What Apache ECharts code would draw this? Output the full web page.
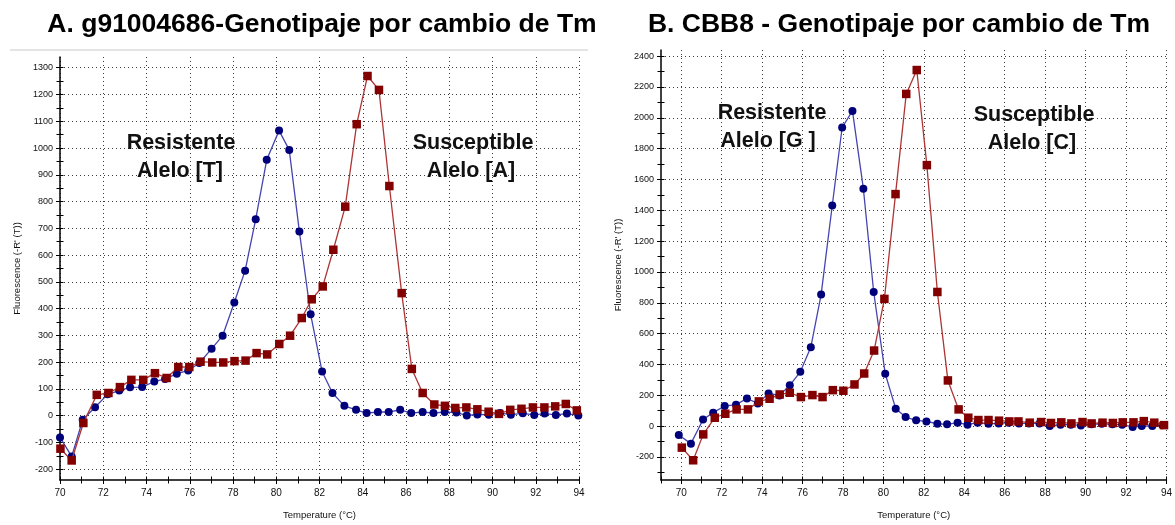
<!DOCTYPE html>
<html>
<head>
<meta charset="utf-8">
<script src="https://cdn.jsdelivr.net/npm/echarts@6/dist/echarts.min.js"></script>
<style>
  html, body { margin: 0; padding: 0; background: #ffffff; }
  #chart { width: 1175px; height: 525px; }
</style>
</head>
<body>
<div id="chart"></div>
<script>
// ---- Panel A: g91004686 melt curves (-dF/dT) ----
const tempA_res = [70.0, 70.54, 71.05, 71.62, 72.2, 72.74, 73.24, 73.8, 74.36, 74.86, 75.4, 75.93, 76.44, 77.01, 77.52, 78.06, 78.56, 79.05, 79.56, 80.13, 80.6, 81.07, 81.59, 82.12, 82.6, 83.15, 83.69, 84.18, 84.7, 85.2, 85.73, 86.24, 86.77, 87.27, 87.79, 88.33, 88.81, 89.3, 89.83, 90.35, 90.85, 91.4, 91.93, 92.41, 92.93, 93.44, 93.97];
const fluoA_res = [-81, -152, -15, 32, 80, 94, 106, 107, 128, 137, 157, 169, 197, 250, 299, 423, 542, 734, 956, 1065, 993, 688, 379, 165, 85, 37, 22, 10, 14, 14, 22, 10, 14, 10, 14, 12, 1, 5, 4, 10, 4, 9, 3, 8, 3, 8, 1];
const tempA_sus = [70.02, 70.54, 71.08, 71.7, 72.24, 72.77, 73.3, 73.85, 74.39, 74.93, 75.47, 75.98, 76.5, 77.04, 77.55, 78.07, 78.58, 79.09, 79.58, 80.14, 80.64, 81.18, 81.64, 82.15, 82.64, 83.19, 83.72, 84.22, 84.75, 85.23, 85.8, 86.27, 86.77, 87.31, 87.8, 88.28, 88.79, 89.3, 89.82, 90.3, 90.82, 91.34, 91.87, 92.4, 92.9, 93.39, 93.9];
const fluoA_sus = [-123, -167, -27, 78, 85, 107, 134, 134, 159, 141, 182, 182, 202, 199, 199, 204, 206, 234, 229, 268, 299, 365, 435, 483, 620, 781, 1089, 1269, 1217, 858, 458, 175, 85, 42, 37, 29, 31, 24, 15, 7, 22, 26, 31, 31, 35, 44, 20];

// ---- Panel B: CBB8 melt curves ----
const tempB_res = [69.88, 70.48, 71.08, 71.58, 72.15, 72.71, 73.25, 73.79, 74.32, 74.86, 75.37, 75.89, 76.41, 76.92, 77.47, 77.96, 78.47, 79.01, 79.52, 80.09, 80.61, 81.1, 81.62, 82.13, 82.67, 83.15, 83.67, 84.16, 84.66, 85.2, 85.7, 86.2, 86.7, 87.2, 87.72, 88.23, 88.76, 89.27, 89.77, 90.29, 90.8, 91.33, 91.81, 92.33, 92.78, 93.3, 93.8];
const fluoB_res = [-58, -114, 43, 87, 130, 139, 179, 147, 212, 199, 264, 352, 512, 853, 1431, 1937, 2045, 1540, 870, 339, 113, 58, 37, 30, 15, 11, 22, 9, 22, 15, 17, 22, 17, 17, 17, 0, 9, 9, 4, 11, 15, 11, 9, -6, 0, 0, 5];
const tempB_sus = [70.03, 70.59, 71.09, 71.66, 72.18, 72.74, 73.3, 73.84, 74.37, 74.87, 75.37, 75.92, 76.49, 76.99, 77.5, 78.02, 78.57, 79.05, 79.54, 80.05, 80.6, 81.13, 81.65, 82.15, 82.67, 83.19, 83.72, 84.2, 84.7, 85.2, 85.72, 86.23, 86.68, 87.24, 87.8, 88.29, 88.8, 89.3, 89.85, 90.3, 90.84, 91.35, 91.84, 92.37, 92.88, 93.4, 93.88];
const fluoB_sus = [-140, -222, -54, 54, 80, 108, 108, 160, 177, 205, 216, 188, 201, 188, 233, 229, 270, 341, 490, 825, 1505, 2155, 2310, 1693, 870, 296, 108, 54, 39, 39, 35, 30, 30, 22, 26, 20, 24, 17, 26, 17, 22, 20, 24, 24, 32, 22, 6];

// ---- tick labels ----
const xLabelsA = [70, 72, 74, 76, 78, 80, 82, 84, 86, 88, 90, 92, 94];
const yLabelsA = [-200, -100, 0, 100, 200, 300, 400, 500, 600, 700, 800, 900, 1000, 1100, 1200, 1300];
const xLabelsB = [70, 72, 74, 76, 78, 80, 82, 84, 86, 88, 90, 92, 94];
const yLabelsB = [-200, 0, 200, 400, 600, 800, 1000, 1200, 1400, 1600, 1800, 2000, 2200, 2400];

const titleA = 'A. g91004686-Genotipaje por cambio de Tm';
const titleB = 'B. CBB8 - Genotipaje por cambio de Tm';
const xName = 'Temperature (°C)';
const yName = "Fluorescence (-R' (T))";

const FONT = '"Liberation Sans", Arial, Helvetica, sans-serif';

function range(a, b, step) {
  const out = [];
  for (let v = a; v <= b + 1e-9; v += step) out.push(Math.round(v * 100) / 100);
  return out;
}
function pairs(xs, ys) { return xs.map((x, i) => [x, ys[i]]); }
function minorsBetween(all, majors) { return all.filter(v => majors.indexOf(v) < 0); }

// extents
const A = { xMin: 70, xMax: 94, yMin: -240, yMax: 1340 };
const B = { xMin: 69, xMax: 94, yMin: -350, yMax: 2440 };

const xAllA = range(70, 94, 1), yAllA = range(-200, 1300, 50);
const xAllB = range(69, 94, 1), yAllB = range(-300, 2400, 100);

const dotted = { type: [1, 3], color: '#3a3a3a', width: 1 };
const plain = v => String(v);

function mainX(grid, ext, labels) {
  return {
    type: 'value', gridIndex: grid, min: ext.xMin, max: ext.xMax, position: 'bottom',
    axisLine: { onZero: false, lineStyle: { color: '#000', width: 1.5 } },
    axisTick: { customValues: labels, length: 4, lineStyle: { color: '#000' } },
    axisLabel: { customValues: labels, formatter: plain, fontSize: 10, color: '#111', margin: 8, fontFamily: FONT },
    splitLine: { show: true, lineStyle: dotted },
    name: xName, nameLocation: 'middle', nameGap: 30,
    nameTextStyle: { fontSize: 9.5, color: '#111', fontFamily: FONT }
  };
}
function mainY(grid, ext, labels) {
  return {
    type: 'value', gridIndex: grid, min: ext.yMin, max: ext.yMax, position: 'left',
    axisLine: { show: true, onZero: false, lineStyle: { color: '#000', width: 1.5 } },
    axisTick: { customValues: labels, length: 4, lineStyle: { color: '#000' } },
    axisLabel: { customValues: labels, formatter: plain, fontSize: 9, color: '#111', margin: 7, fontFamily: FONT },
    splitLine: { show: true, lineStyle: dotted },
    name: yName, nameLocation: 'middle', nameGap: 38, nameRotate: 90,
    nameTextStyle: { fontSize: 9.5, color: '#111', fontFamily: FONT }
  };
}
// tick-only axes: draw the crossing tick marks without labels or grid lines
function tickAxis(dim, grid, ext, values, inside) {
  const isX = dim === 'x';
  return {
    type: 'value', gridIndex: grid,
    min: isX ? ext.xMin : ext.yMin, max: isX ? ext.xMax : ext.yMax,
    position: isX ? 'bottom' : 'left',
    axisLine: { show: false, onZero: false },
    axisLabel: { show: false },
    splitLine: { show: false },
    axisTick: { show: true, customValues: values, inside: inside, length: 3.5, lineStyle: { color: '#000' } }
  };
}

function series(xi, yi, xs, ys, kind) {
  const blue = kind === 'res';
  return {
    type: 'line', xAxisIndex: xi, yAxisIndex: yi,
    data: pairs(xs, ys),
    symbol: blue ? 'circle' : 'rect',
    symbolSize: blue ? 8 : 8.5,
    itemStyle: { color: blue ? '#00007a' : '#820000' },
    lineStyle: { color: blue ? '#4545b0' : '#ad3535', width: 1.3 },
    z: blue ? 3 : 4,
    animation: false
  };
}

const titleFont = 'bold 26.5px ' + FONT;
const noteFont = 'bold 21.5px ' + FONT;
function note(x, y, text) {
  return { type: 'text', x: x, y: y, z: 10, style: { text: text, font: noteFont, fill: '#111', textAlign: 'center', textVerticalAlign: 'middle' } };
}

const chart = echarts.init(document.getElementById('chart'), null, { renderer: 'canvas' });
chart.setOption({
  backgroundColor: '#ffffff',
  animation: false,
  grid: [
    { left: 60, top: 57, width: 519, height: 423 },
    { left: 661, top: 50, width: 516, height: 431 }
  ],
  xAxis: [
    mainX(0, A, xLabelsA),
    tickAxis('x', 0, A, xAllA, true),
    tickAxis('x', 0, A, minorsBetween(xAllA, xLabelsA), false),
    mainX(1, B, xLabelsB),
    tickAxis('x', 1, B, xAllB, true),
    tickAxis('x', 1, B, minorsBetween(xAllB, xLabelsB), false)
  ],
  yAxis: [
    mainY(0, A, yLabelsA),
    tickAxis('y', 0, A, yAllA, true),
    tickAxis('y', 0, A, minorsBetween(yAllA, yLabelsA), false),
    mainY(1, B, yLabelsB),
    tickAxis('y', 1, B, yAllB, true),
    tickAxis('y', 1, B, minorsBetween(yAllB, yLabelsB), false)
  ],
  series: [
    series(0, 0, tempA_res, fluoA_res, 'res'),
    series(0, 0, tempA_sus, fluoA_sus, 'sus'),
    series(3, 3, tempB_res, fluoB_res, 'res'),
    series(3, 3, tempB_sus, fluoB_sus, 'sus')
  ],
  graphic: [
    // light frame edge above panel A
    { type: 'line', shape: { x1: 10, y1: 50, x2: 588, y2: 50 }, style: { stroke: '#e4e4e4', lineWidth: 2 }, silent: true },
    { type: 'text', x: 322, y: 25, style: { text: titleA, font: titleFont, fill: '#000', textAlign: 'center', textVerticalAlign: 'middle' } },
    { type: 'text', x: 899, y: 25, style: { text: titleB, font: titleFont, fill: '#000', textAlign: 'center', textVerticalAlign: 'middle' } },
    note(181, 143, 'Resistente'),
    note(180, 171, 'Alelo [T]'),
    note(473, 143, 'Susceptible'),
    note(471, 171, 'Alelo [A]'),
    note(772, 113, 'Resistente'),
    note(768, 141, 'Alelo [G ]'),
    note(1034, 115, 'Susceptible'),
    note(1032, 143, 'Alelo [C]')
  ]
});
</script>
</body>
</html>
